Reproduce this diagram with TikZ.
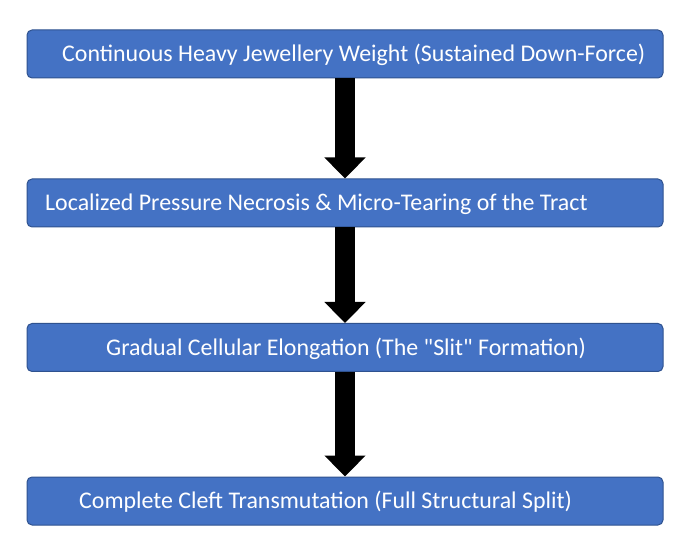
\documentclass[tikz,border=0pt]{standalone}
\usepackage{fontspec}
\setmainfont{Carlito}[Ligatures=TeXOff]
\usetikzlibrary{arrows.meta}
\definecolor{boxblue}{HTML}{4472C4}
\definecolor{boxedge}{HTML}{2F528F}
\begin{document}
\begin{tikzpicture}[x=1pt,y=-1pt,
  box/.style={draw=boxedge,fill=boxblue,line width=1pt,rounded corners=5pt,minimum width=636pt,minimum height=48pt,inner sep=0pt},
  lbl/.style={text=white,font=\fontsize{23.9}{28}\selectfont,anchor=west,inner sep=0pt},
  flow/.style={line width=20pt,-{Triangle[width=40pt,length=21pt]}}]
\useasboundingbox (0,0) rectangle (681,556);
\fill[white] (0,0) rectangle (681,556);
\node[box] (b1) at (345,54) {};
\node[box] (b2) at (345,203) {};
\node[box] (b3) at (345,347.5) {};
\node[box] (b4) at (345,501) {};
\node[lbl] (t1) at (62,55) {Continuous Heavy Jewellery Weight (Sustained Down-Force)};
\node[lbl] (t2) at (45,204) {Localized Pressure Necrosis \& Micro-Tearing of the Tract};
\node[lbl] (t3) at (106,348.5) {Gradual Cellular Elongation (The "Slit" Formation)};
\node[lbl] (t4) at (79,502) {Complete Cleft Transmutation (Full Structural Split)};
\draw[flow] (b1.south) -- (b2.north);
\draw[flow] (b2.south) -- (b3.north);
\draw[flow] (b3.south) -- (b4.north);
\end{tikzpicture}
\end{document}
